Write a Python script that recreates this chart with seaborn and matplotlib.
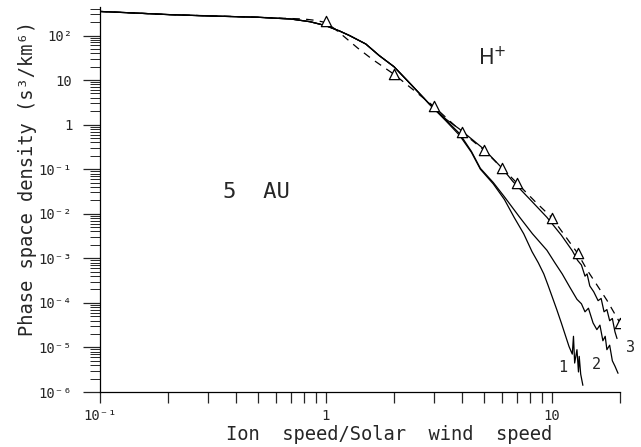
import numpy as np
import pandas as pd
import matplotlib
matplotlib.use("Agg")
import matplotlib.pyplot as plt
import seaborn as sns

# ---- data ----
common_x = [0.1, 0.15, 0.2, 0.3, 0.5, 0.7, 0.85, 1.0, 1.15, 1.27, 1.5, 1.72, 2.0, 2.4, 2.87]
common_logy = [2.54, 2.50, 2.47, 2.44, 2.41, 2.37, 2.31, 2.22, 2.10, 2.00, 1.81, 1.55, 1.30, 0.88, 0.46]

c1_x = [3.4, 3.9, 4.4, 4.82, 5.5, 6.16, 6.8, 7.5, 8.16, 8.7, 9.2, 9.6, 10.0, 10.5, 11.0, 11.5, 11.9,
        12.3, 12.45, 12.6, 12.9, 13.1, 13.2, 13.4, 13.7]
c1_logy = [0.08, -0.24, -0.62, -1.0, -1.33, -1.68, -2.08, -2.45, -2.85, -3.1, -3.35, -3.6, -3.85, -4.15,
           -4.45, -4.75, -4.98, -5.15, -4.75, -5.35, -5.05, -5.55, -5.2, -5.6, -5.85]

c2_x = [3.4, 3.9, 4.4, 4.82, 5.5, 6.16, 7.2, 8.2, 9.5, 10.3, 11.1, 12.0, 12.9, 13.5, 14.0, 14.5, 15.2,
        15.8, 16.3, 16.8, 17.2, 17.5, 18.0, 18.5, 19.0, 19.6]
c2_logy = [0.1, -0.2, -0.6, -0.98, -1.3, -1.62, -2.08, -2.45, -2.82, -3.1, -3.35, -3.65, -3.92, -4.02,
           -4.2, -4.12, -4.45, -4.6, -4.5, -4.85, -4.75, -5.05, -4.95, -5.3, -5.42, -5.58]

c3_x = [3.4, 3.9, 5.0, 6.0, 6.7, 8.0, 9.5, 11.0, 12.3, 13.0, 13.5, 14.0, 14.3, 14.7, 15.3, 16.0, 16.5,
        17.0, 17.5, 18.0, 18.5, 19.0, 19.4]
c3_logy = [0.12, -0.1, -0.55, -0.97, -1.27, -1.68, -2.08, -2.48, -2.83, -3.05, -3.15, -3.4, -3.35, -3.62,
           -3.75, -3.95, -3.9, -4.2, -4.15, -4.4, -4.35, -4.65, -4.8]

dash_x = [0.1, 0.2, 0.5, 0.8, 0.9, 1.0, 1.1, 1.2, 1.38, 1.6, 2.0, 3.0, 4.0, 5.0, 6.0, 7.0, 8.4, 10.0,
          13.0, 14.3, 17.5, 20.0]
dash_logy = [2.54, 2.47, 2.41, 2.37, 2.34, 2.29, 2.14, 1.98, 1.72, 1.47, 1.13, 0.41, -0.17, -0.57,
             -0.97, -1.31, -1.72, -2.09, -2.89, -3.26, -3.94, -4.45]

tri_x = [1, 2, 3, 4, 5, 6, 7, 10, 13, 20]
tri_y = [210, 13.5, 2.6, 0.68, 0.27, 0.107, 0.049, 0.0081, 0.0013, 3.5e-5]

ytick_vals = [1e-6, 1e-5, 1e-4, 1e-3, 1e-2, 1e-1, 1, 10, 100]
ytick_labels = ["10⁻⁶", "10⁻⁵", "10⁻⁴", "10⁻³", "10⁻²", "10⁻¹", "1", "10", "10²"]
xtick_vals = [0.1, 1, 10]
xtick_labels = ["10⁻¹", "1", "10"]

curve_labels = ["1", "2", "3"]

# ---- build frames ----
def make_df(xs, logys, name):
    return pd.DataFrame({"x": xs, "y": np.power(10.0, logys), "curve": name})

df1 = make_df(common_x + c1_x, common_logy + c1_logy, "1")
df2 = make_df(common_x + c2_x, common_logy + c2_logy, "2")
df3 = make_df(common_x + c3_x, common_logy + c3_logy, "3")
dfd = make_df(dash_x, dash_logy, "model")
dft = pd.DataFrame({"x": tri_x, "y": tri_y})

sns.set_style("ticks")
plt.rcParams["font.family"] = ["DejaVu Sans Mono", "DejaVu Sans"]

fig = plt.figure(figsize=(6.41, 4.47), dpi=100)
ax = fig.add_axes([100 / 641, 1 - 392 / 447, 520 / 641, 385 / 447])

for d in (df1, df2, df3):
    sns.lineplot(data=d, x="x", y="y", ax=ax, color="black", lw=0.9, sort=False,
                 estimator=None, legend=False)
sns.lineplot(data=dfd, x="x", y="y", ax=ax, color="black", lw=0.9, sort=False,
             estimator=None, legend=False, dashes=False, linestyle=(0, (6, 5)))
sns.scatterplot(data=dft, x="x", y="y", ax=ax, marker="^", s=55, facecolor="white",
                edgecolor="black", linewidth=0.9, zorder=5, legend=False)

ax.set_xscale("log")
ax.set_yscale("log")
ax.set_xlim(0.1, 20)
ax.set_ylim(1e-6, 10 ** 2.64)

ax.set_yticks(ytick_vals, ytick_labels)
ax.set_xticks(xtick_vals, xtick_labels)
ax.yaxis.set_minor_locator(matplotlib.ticker.LogLocator(base=10, subs=np.arange(2, 10), numticks=20))
ax.xaxis.set_minor_locator(matplotlib.ticker.LogLocator(base=10, subs=np.arange(2, 10), numticks=20))
ax.xaxis.set_minor_formatter(matplotlib.ticker.NullFormatter())
ax.yaxis.set_minor_formatter(matplotlib.ticker.NullFormatter())

ax.tick_params(axis="y", which="major", direction="out", length=12, width=0.9, labelsize=10, pad=8)
ax.tick_params(axis="y", which="minor", direction="out", length=7, width=0.7)
ax.tick_params(axis="x", which="both", direction="out", length=8, width=0.9, labelsize=10, pad=4)

for s in ("top", "right"):
    ax.spines[s].set_visible(False)
for s in ("left", "bottom"):
    ax.spines[s].set_linewidth(0.9)
    ax.spines[s].set_color("black")

ax.set_xlabel("Ion  speed/Solar  wind  speed", fontsize=13.5)
ax.set_ylabel("Phase space density (s³/km⁶)", fontsize=13.5)
ax.xaxis.set_label_coords((389 - 100) / 520, -(425 - 392) / 385)
ax.yaxis.set_label_coords((37 - 100) / 520, (392 - 178) / 385)

ax.text(0.30, 0.519, "5  AU", transform=ax.transAxes, fontsize=16, ha="center", va="center")
ax.text(0.755, 0.868, "H$^{+}$", transform=ax.transAxes, fontsize=15, ha="center", va="center",
        family="DejaVu Sans")

label_pos = [(11.2, 10 ** -5.44), (15.8, 10 ** -5.39), (22.2, 10 ** -5.0)]
for lab, (lx, ly) in zip(curve_labels, label_pos):
    ax.text(lx, ly, lab, fontsize=11, ha="center", va="center", clip_on=False)

fig.savefig("out.png", dpi=100)
